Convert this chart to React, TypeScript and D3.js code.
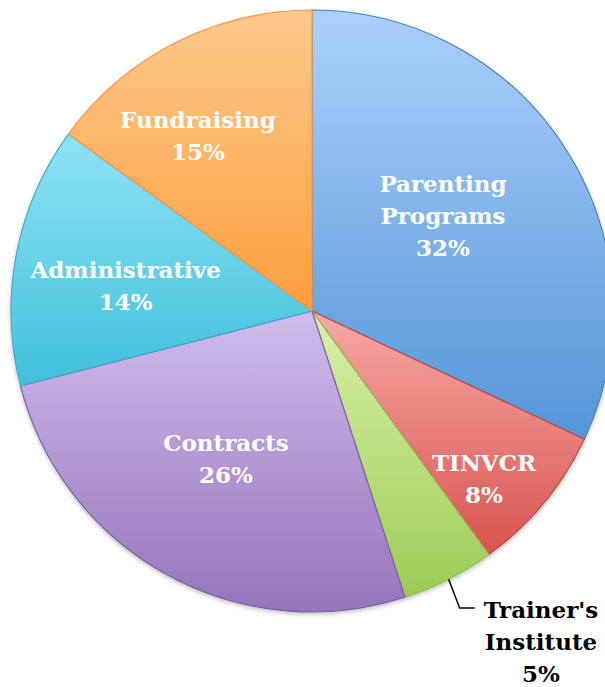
import React from "react";
import * as d3 from "d3";

const categories = ["Parenting Programs", "TINVCR", "Trainer's Institute", "Contracts", "Administrative", "Fundraising"];
const values = [32, 8, 5, 26, 14, 15];
const labelLines = [["Parenting", "Programs", "32%"], ["TINVCR", "8%"], ["Trainer's", "Institute", "5%"], ["Contracts", "26%"], ["Administrative", "14%"], ["Fundraising", "15%"]];

const topColors = ["#abd0fc", "#f7a9a5", "#d9f1a9", "#cfbcec", "#8ee3f4", "#fec98d"];
const bottomColors = ["#5495d8", "#d8544f", "#9ccb55", "#9574ba", "#40c0dc", "#fb9e3c"];
const strokeColors = ["#4a7ebb", "#be4b48", "#98b954", "#7d60a0", "#46aac5", "#f79646"];
const labelRadius = [0.538, 0.797, 0, 0.568, 0.625, 0.694];
const labelAngleNudge = [-3.6, 4.6, 0, 1.4, -3.1, -6.1];

export default function App() {
  const W = 605, H = 687;
  const cx = 312, cy = 311, r = 301;
  const pie = d3.pie<number>().value((d) => d).sort(null);
  const arcs = pie(values);
  const arc = d3.arc<d3.PieArcDatum<number>>().innerRadius(0).outerRadius(r);
  const font = "'DejaVu Serif', serif";
  const fs = 23;
  const lh = 32;
  return (
    <svg width={W} height={H} style={{ position: "absolute", left: 0, top: 0 }}>
      <defs>
        {arcs.map((a, i) => (
          <linearGradient key={i} id={`g${i}`} x1="0" y1="0" x2="0" y2="1">
            <stop offset="0" stopColor={topColors[i]} />
            <stop offset="1" stopColor={bottomColors[i]} />
          </linearGradient>
        ))}
        <filter id="sh" x="-10%" y="-10%" width="120%" height="120%">
          <feGaussianBlur in="SourceAlpha" stdDeviation="2" />
          <feOffset dx="0" dy="2" result="b" />
          <feComponentTransfer><feFuncA type="linear" slope="0.25" /></feComponentTransfer>
          <feMerge><feMergeNode /><feMergeNode in="SourceGraphic" /></feMerge>
        </filter>
      </defs>
      <g transform={`translate(${cx},${cy})`} filter="url(#sh)">
        {arcs.map((a, i) => (
          <path key={i} d={arc(a) || ""} fill={`url(#g${i})`} stroke={strokeColors[i]} strokeWidth={1.2} strokeLinejoin="round" />
        ))}
      </g>
      <g transform={`translate(${cx},${cy})`}>
        {arcs.map((a, i) => {
          const mid = (a.startAngle + a.endAngle) / 2;
          const lines = labelLines[i];
          if (labelRadius[i] === 0) {
            const px = Math.sin(mid) * r, py = -Math.cos(mid) * r;
            const tx = 541 - cx, ty = 618 - cy;
            return (
              <g key={i}>
                <polyline points={`${px},${py} ${px + 11},${ty - 10} ${px + 26},${ty - 10}`} fill="none" stroke="#000" strokeWidth={1.5} />
                {lines.map((t, k) => (
                  <text key={k} x={tx} y={ty + k * lh} textAnchor="middle" fontFamily={font} fontWeight="bold" fontSize={fs} fill="#000">{t}</text>
                ))}
              </g>
            );
          }
          const ang = mid + (labelAngleNudge[i] * Math.PI) / 180;
          const rr = labelRadius[i] * r;
          const lx = Math.sin(ang) * rr, ly = -Math.cos(ang) * rr;
          const n = lines.length;
          const y0 = ly - ((n - 1) * lh) / 2 + fs * 0.36;
          return (
            <g key={i}>
              {lines.map((t, k) => (
                <text key={k} x={lx} y={y0 + k * lh} textAnchor="middle" fontFamily={font} fontWeight="bold" fontSize={fs} fill="#fff">{t}</text>
              ))}
            </g>
          );
        })}
      </g>
    </svg>
  );
}
